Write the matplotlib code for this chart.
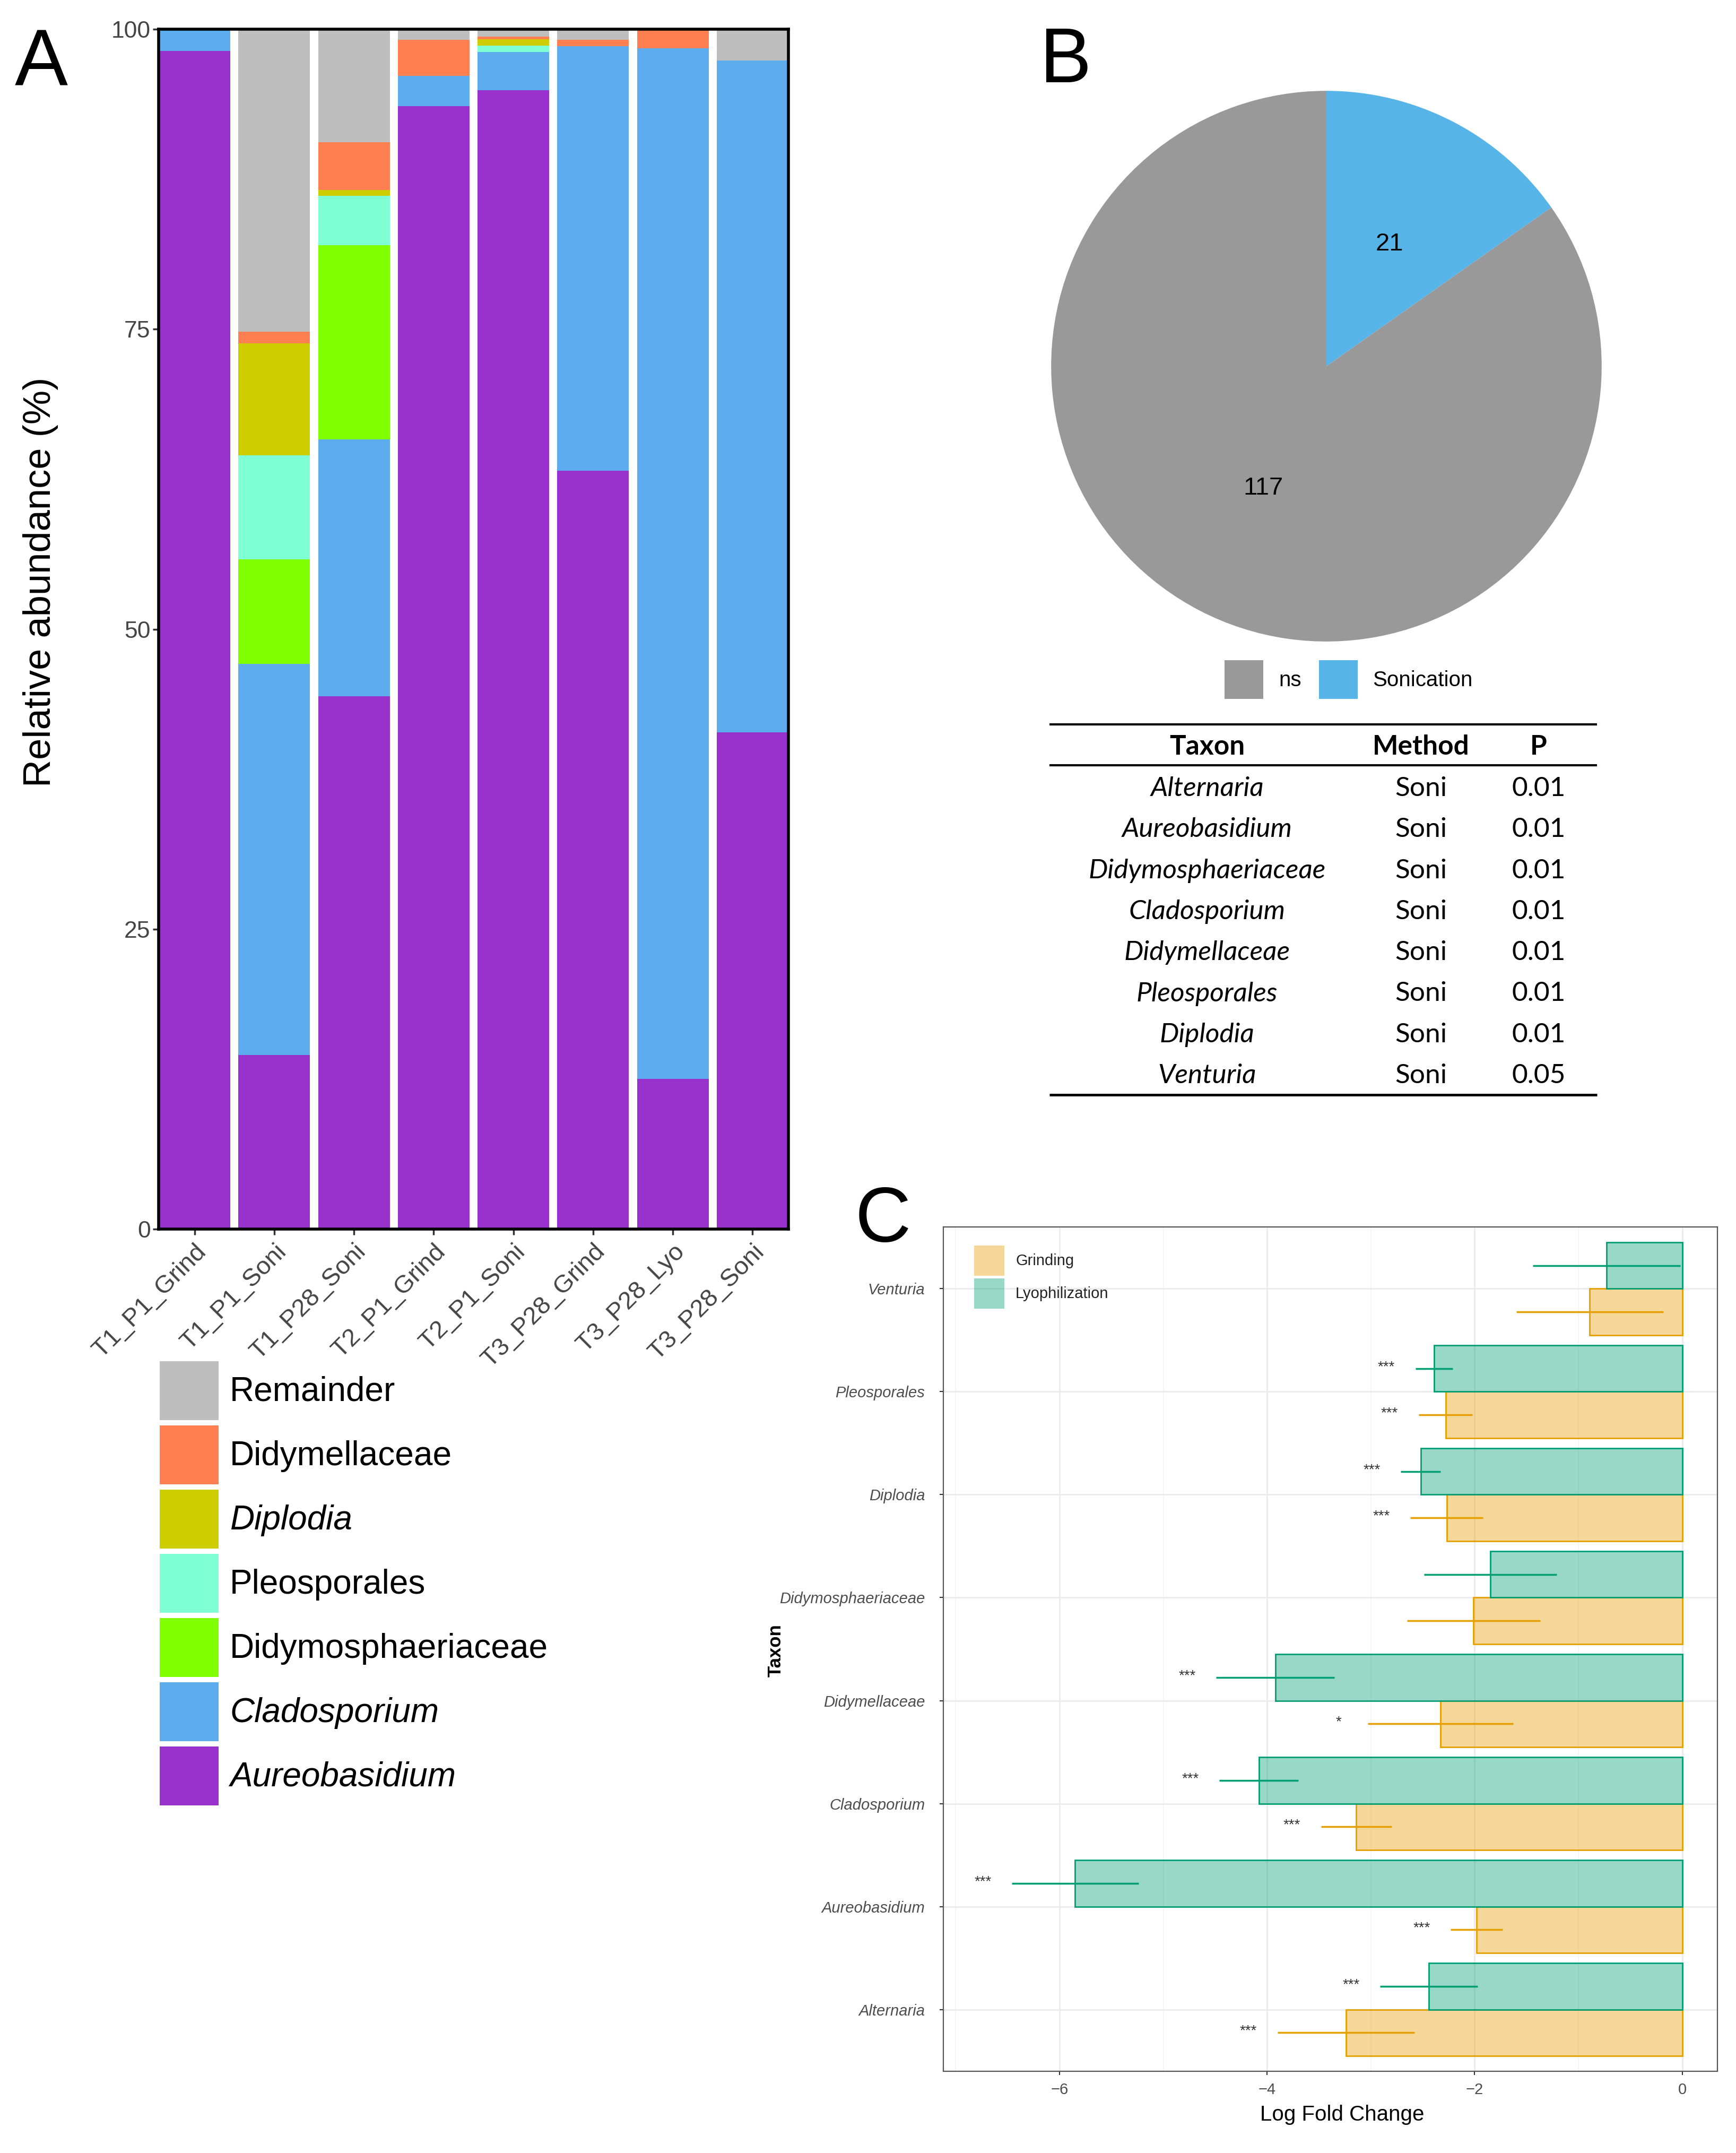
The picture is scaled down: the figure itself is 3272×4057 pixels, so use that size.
import matplotlib
matplotlib.use('Agg')
import matplotlib.pyplot as plt
from matplotlib.patches import Rectangle
import numpy as np

W, H = 3272, 4057  # размер картинки в пикселях (dpi = 100)

# ---- A: относительная численность (снизу вверх) ----
samples = ['T1_P1_Grind', 'T1_P1_Soni', 'T1_P28_Soni', 'T2_P1_Grind',
           'T2_P1_Soni', 'T3_P28_Grind', 'T3_P28_Lyo', 'T3_P28_Soni']
aureobasidium = [98.2, 14.5, 44.4, 93.6, 94.9, 63.2, 12.5, 41.4]
cladosporium = [1.8, 32.6, 21.4, 2.5, 3.2, 35.4, 85.9, 56.0]
didymosphaeriaceae = [0, 8.7, 16.2, 0, 0, 0, 0, 0]
pleosporales = [0, 8.7, 4.1, 0, 0.55, 0, 0, 0]
diplodia = [0, 9.3, 0.5, 0, 0.5, 0, 0, 0]
didymellaceae = [0, 1.0, 4.0, 3.0, 0.25, 0.5, 1.6, 0]
remainder = [0, 25.2, 9.4, 0.9, 0.6, 0.9, 0, 2.6]

# ---- B: круговая диаграмма и таблица ----
pie_labels = ['Sonication', 'ns']
pie_counts = [21, 117]
table_taxa = ['Alternaria', 'Aureobasidium', 'Didymosphaeriaceae', 'Cladosporium',
              'Didymellaceae', 'Pleosporales', 'Diplodia', 'Venturia']
table_method = ['Soni'] * 8
table_p = ['0.01', '0.01', '0.01', '0.01', '0.01', '0.01', '0.01', '0.05']

# ---- C: log fold change ----
c_taxa = ['Alternaria', 'Aureobasidium', 'Cladosporium', 'Didymellaceae',
          'Didymosphaeriaceae', 'Diplodia', 'Pleosporales', 'Venturia']
grind_lfc = [-3.24, -1.98, -3.14, -2.33, -2.01, -2.27, -2.28, -0.89]
grind_se = [0.66, 0.25, 0.34, 0.70, 0.64, 0.35, 0.26, 0.71]
lyo_lfc = [-2.44, -5.85, -4.08, -3.92, -1.85, -2.52, -2.39, -0.73]
lyo_se = [0.47, 0.61, 0.38, 0.57, 0.64, 0.19, 0.18, 0.71]
grind_sig = ['***', '***', '***', '*', '', '***', '***', '']
lyo_sig = ['***', '***', '***', '***', '', '***', '***', '']

SANS = 'Liberation Sans'
plt.rcParams['font.family'] = [SANS, 'DejaVu Sans']

fig = plt.figure(figsize=(W / 100, H / 100), dpi=100)


def px_box(l, t, r, b):
    return [l / W, 1 - b / H, (r - l) / W, (b - t) / H]


# ================= панель A =================
layers = [('Aureobasidium', aureobasidium, '#9932CC', True),
          ('Cladosporium', cladosporium, '#5CACEE', True),
          ('Didymosphaeriaceae', didymosphaeriaceae, '#7FFF00', False),
          ('Pleosporales', pleosporales, '#7FFFD4', False),
          ('Diplodia', diplodia, '#CDCD00', True),
          ('Didymellaceae', didymellaceae, '#FF7F50', False),
          ('Remainder', remainder, '#BEBEBE', False)]

axA = fig.add_axes(px_box(299, 55, 1486, 2316))
xpos = np.arange(1, len(samples) + 1)
bottom = np.zeros(len(samples))
for name, vals, col, _ in layers:
    vals = np.array(vals, dtype=float)
    axA.bar(xpos, vals, 0.9, bottom=bottom, color=col, linewidth=0)
    bottom += vals
axA.set_xlim(0.55, len(samples) + 0.45)
axA.set_ylim(0, 100)
axA.set_yticks([0, 25, 50, 75, 100])
axA.set_xticks(xpos)
axA.set_xticklabels(samples, rotation=45, ha='right', va='top', rotation_mode='anchor')
axA.tick_params(axis='both', length=8, width=2.5, colors='#333333', labelcolor='#444444')
axA.tick_params(axis='y', labelsize=32, pad=3)
axA.tick_params(axis='x', labelsize=34, pad=7)
for s in axA.spines.values():
    s.set_linewidth(4)
    s.set_color('black')

# ================= панель B: пирог =================
axB = fig.add_axes(px_box(2500 - 524, 690 - 524, 2500 + 524, 690 + 524))
pie_colors = ['#56B4E9', '#999999']
wedges, _ = axB.pie(pie_counts, colors=pie_colors, startangle=90, counterclock=False,
                    radius=1, wedgeprops=dict(linewidth=0))
for w, n in zip(wedges, pie_counts):
    ang = np.deg2rad((w.theta1 + w.theta2) / 2)
    axB.text(0.5 * np.cos(ang), 0.5 * np.sin(ang), str(n), fontsize=34,
             ha='center', va='center')
axB.set_xlim(-1.01, 1.01)
axB.set_ylim(-1.01, 1.01)

# ================= панель C =================
axC = fig.add_axes(px_box(1778, 2312, 3237, 3903))
yc = np.arange(1, len(c_taxa) + 1)
g_edge, l_edge = '#E69F00', '#009E73'
g_fill = (0.902, 0.624, 0.0, 0.4)
l_fill = (0.0, 0.620, 0.451, 0.4)
axC.barh(yc - 0.225, grind_lfc, 0.45, color=g_fill, edgecolor=g_edge, linewidth=2, zorder=2)
axC.barh(yc + 0.225, lyo_lfc, 0.45, color=l_fill, edgecolor=l_edge, linewidth=2, zorder=2)
axC.errorbar(grind_lfc, yc - 0.225, xerr=grind_se, fmt='none', ecolor=g_edge,
             elinewidth=2.5, capsize=0, zorder=3)
axC.errorbar(lyo_lfc, yc + 0.225, xerr=lyo_se, fmt='none', ecolor=l_edge,
             elinewidth=2.5, capsize=0, zorder=3)
for i in range(len(c_taxa)):
    if grind_sig[i]:
        axC.text(grind_lfc[i] - grind_se[i] - 0.28, yc[i] - 0.21, grind_sig[i],
                 fontsize=20, color='#333333', ha='center', va='center')
    if lyo_sig[i]:
        axC.text(lyo_lfc[i] - lyo_se[i] - 0.28, yc[i] + 0.24, lyo_sig[i],
                 fontsize=20, color='#333333', ha='center', va='center')
axC.set_xlim(-7.12, 0.34)
axC.set_ylim(0.4, len(c_taxa) + 0.6)
axC.set_xticks([-6, -4, -2, 0])
axC.set_xticks([-7, -5, -3, -1], minor=True)
axC.set_yticks(yc)
axC.set_yticklabels(c_taxa, fontstyle='italic')
axC.grid(which='major', color='#EBEBEB', linewidth=2)
axC.grid(which='minor', axis='x', color='#F4F4F4', linewidth=1.2)
axC.set_axisbelow(True)
axC.tick_params(which='major', length=5, width=1.5, colors='#333333',
                labelcolor='#4D4D4D', labelsize=21)
axC.tick_params(axis='y', pad=20)
axC.tick_params(axis='x', pad=10)
axC.tick_params(which='minor', length=0)
for s in axC.spines.values():
    s.set_linewidth(1.6)
    s.set_color('#555555')

# ================= надписи поверх (пиксельные координаты) =================
ov = fig.add_axes([0, 0, 1, 1], zorder=10)
ov.set_xlim(0, W)
ov.set_ylim(H, 0)
ov.axis('off')

ov.text(28, 160, 'A', fontsize=108, ha='left', va='baseline')
ov.text(1960, 155, 'B', fontsize=105, ha='left', va='baseline')
ov.text(1612, 2340, 'C', fontsize=105, ha='left', va='baseline')

ov.text(77, 1097, 'Relative abundance (%)', fontsize=52, rotation=90,
        ha='center', va='center')

# легенда A (сверху вниз)
for k, (name, _, col, ital) in enumerate(layers[::-1]):
    top = 2565 + 121 * k
    ov.add_patch(Rectangle((301, top), 111, 111, facecolor=col, edgecolor='none'))
    ov.text(433, top + 58, name, fontsize=46, ha='left', va='center',
            fontstyle='italic' if ital else 'normal')

# легенда пирога
for (lab, col, bx, tx) in [(pie_labels[1], pie_colors[1], 2308, 2410),
                           (pie_labels[0], pie_colors[0], 2486, 2587)]:
    ov.add_patch(Rectangle((bx, 1244), 73, 73, facecolor=col, edgecolor='none'))
    ov.text(tx, 1282, lab, fontsize=29, ha='left', va='center')

# таблица
TF = ['Lato', 'DejaVu Sans']
ov.plot([1978, 3010], [1365, 1365], color='black', lw=3, solid_capstyle='butt')
ov.plot([1978, 3010], [1442, 1442], color='black', lw=3, solid_capstyle='butt')
ov.plot([1978, 3010], [2063, 2063], color='black', lw=3.5, solid_capstyle='butt')
col_x = [2275, 2678, 2900]
for cx, head in zip(col_x, ['Taxon', 'Method', 'P']):
    ov.text(cx, 1407, head, fontsize=37, fontweight='bold', family=TF,
            ha='center', va='center')
for r in range(len(table_taxa)):
    ry = 1486 + 77.3 * r
    ov.text(col_x[0], ry, table_taxa[r], fontsize=37, fontstyle='italic', family=TF,
            ha='center', va='center')
    ov.text(col_x[1], ry, table_method[r], fontsize=37, family=TF, ha='center', va='center')
    ov.text(col_x[2], ry, table_p[r], fontsize=37, family=TF, ha='center', va='center')

# легенда C
for k, (lab, fc) in enumerate([('Grinding', g_fill), ('Lyophilization', l_fill)]):
    top = 2347 + 62 * k
    ov.add_patch(Rectangle((1836, top), 57, 57, facecolor=fc, edgecolor='none'))
    ov.text(1914, top + 29, lab, fontsize=21, color='#222222', ha='left', va='center')

ov.text(2530, 3985, 'Log Fold Change', fontsize=29, ha='center', va='center')
ov.text(1462, 3110, 'Taxon', fontsize=25, fontweight='bold', rotation=90,
        ha='center', va='center')

fig.savefig('out.png', dpi=100)
